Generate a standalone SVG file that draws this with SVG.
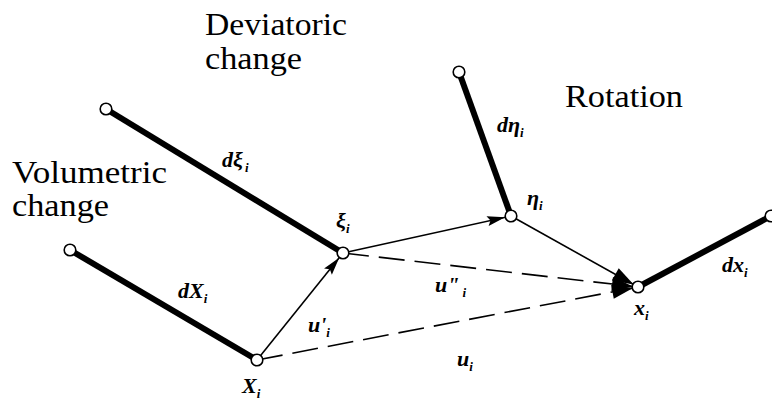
<svg xmlns="http://www.w3.org/2000/svg" width="772" height="400" viewBox="0 0 772 400">
<style>
.title{font-family:"Liberation Serif","Times New Roman",serif;font-size:32px;fill:#000}
.lab{font-family:"Liberation Serif","Times New Roman",serif;font-size:22px;font-style:italic;font-weight:bold;fill:#000}
.sub{font-size:13px}
.thick{stroke:#000;stroke-width:6;fill:none;stroke-linecap:butt}
.thin{stroke:#000;stroke-width:1.6;fill:none}
.dash{stroke:#000;stroke-width:1.6;fill:none;stroke-dasharray:26 10}
.node{fill:#fff;stroke:#000;stroke-width:1.6}
</style>
<defs>
<marker id="arr" markerUnits="userSpaceOnUse" markerWidth="26" markerHeight="12" viewBox="0 0 26 12" refX="24" refY="5" orient="auto" overflow="visible">
<path d="M0,0 L18,5 L0,10 L3,5 z" fill="#000" stroke="none"/>
</marker>
<marker id="big" markerUnits="userSpaceOnUse" markerWidth="30" markerHeight="16" viewBox="0 0 30 16" refX="26" refY="7" orient="auto" overflow="visible">
<path d="M0,0 L21,7 L0,14 z" fill="#000" stroke="none"/>
</marker>
</defs>

<g id="labels">
<text class="title" x="205" y="35" textLength="142" lengthAdjust="spacingAndGlyphs">Deviatoric</text>
<text class="title" x="205" y="69" textLength="97" lengthAdjust="spacingAndGlyphs">change</text>
<text class="title" x="12" y="183" textLength="155" lengthAdjust="spacingAndGlyphs">Volumetric</text>
<text class="title" x="12" y="216" textLength="97" lengthAdjust="spacingAndGlyphs">change</text>
<text class="title" x="565" y="107" textLength="118" lengthAdjust="spacingAndGlyphs">Rotation</text>
</g>

<g id="connectors">
<line class="thick" x1="70" y1="250" x2="257" y2="360"/>
<line class="thick" x1="106" y1="109" x2="343" y2="253"/>
<line class="thick" x1="459" y1="72" x2="511" y2="216"/>
<line class="thick" x1="638" y1="287" x2="771" y2="216"/>
<line class="thin" x1="257" y1="360" x2="343" y2="253" marker-end="url(#arr)"/>
<line class="thin" x1="343" y1="253" x2="511" y2="216" marker-end="url(#arr)"/>
<line class="thin" x1="511" y1="216" x2="638" y2="287" marker-end="url(#big)"/>
<line class="dash" x1="343" y1="253" x2="638" y2="287" marker-end="url(#big)"/>
<line class="dash" x1="257" y1="360" x2="638" y2="287" marker-end="url(#big)"/>
</g>

<g id="node-vol-start"><circle class="node" cx="70" cy="250" r="5.8"/></g>
<g id="node-dev-start"><circle class="node" cx="106" cy="109" r="5.8"/></g>
<g id="node-rot-start"><circle class="node" cx="459" cy="72" r="5.8"/></g>
<g id="node-dx-end"><circle class="node" cx="771" cy="216" r="5.8"/></g>
<g id="node-X">
<circle class="node" cx="257" cy="360" r="5.8"/>
<text class="lab" x="242" y="393">X<tspan class="sub" dy="5">i</tspan></text>
</g>
<g id="node-xi">
<circle class="node" cx="343" cy="253" r="5.8"/>
<text class="lab" x="336" y="228">ξ<tspan class="sub" dy="5">i</tspan></text>
</g>
<g id="node-eta">
<circle class="node" cx="511" cy="216" r="5.8"/>
<text class="lab" x="527" y="205">η<tspan class="sub" dy="5">i</tspan></text>
</g>
<g id="node-x">
<circle class="node" cx="638" cy="287" r="5.8"/>
<text class="lab" x="634" y="315">x<tspan class="sub" dy="5">i</tspan></text>
</g>

<g id="edge-labels">
<text class="lab" x="222" y="167">dξ<tspan class="sub" dx="2" dy="5">i</tspan></text>
<text class="lab" x="497" y="132">dη<tspan class="sub" dy="5">i</tspan></text>
<text class="lab" x="178" y="298">dX<tspan class="sub" dy="5">i</tspan></text>
<text class="lab" x="308" y="332">u'<tspan class="sub" dy="5">i</tspan></text>
<text class="lab" x="435" y="292">u"<tspan class="sub" dx="3" dy="5">i</tspan></text>
<text class="lab" x="457" y="366">u<tspan class="sub" dy="5">i</tspan></text>
<text class="lab" x="722" y="272">dx<tspan class="sub" dy="5">i</tspan></text>
</g>
</svg>
